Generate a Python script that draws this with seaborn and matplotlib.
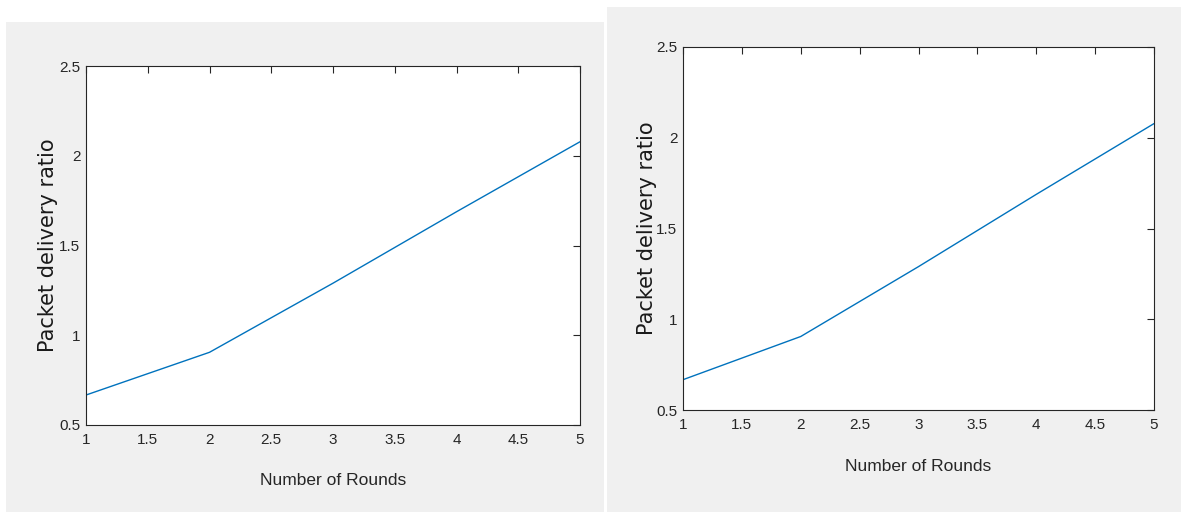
import numpy as np
import pandas as pd
import matplotlib
matplotlib.use("Agg")
import matplotlib.pyplot as plt
from matplotlib.patches import Rectangle
import seaborn as sns

# Dados (mesma curva nos dois painéis)
rounds = [1, 2, 3, 4, 5]
pdr = [0.667, 0.905, 1.29, 1.688, 2.078]
x_ticks = [1, 1.5, 2, 2.5, 3, 3.5, 4, 4.5, 5]
x_tick_labels = ["1", "1.5", "2", "2.5", "3", "3.5", "4", "4.5", "5"]
y_ticks = [0.5, 1, 1.5, 2, 2.5]
y_tick_labels = ["0.5", "1", "1.5", "2", "2.5"]
xlabel_txt = "Number of Rounds"
ylabel_txt = "Packet delivery ratio"

sns.set_style("white")
plt.rcParams['font.family'] = ['Liberation Sans', 'DejaVu Sans']

df = pd.DataFrame({"rounds": rounds, "pdr": pdr})

W, H = 1181, 512
fig = plt.figure(figsize=(W / 100, H / 100), dpi=100)
fig.patch.set_facecolor("white")

# fundos cinza estilo MATLAB, num eixo de fundo
bg = fig.add_axes([0, 0, 1, 1], zorder=-10)
bg.set_xlim(0, W)
bg.set_ylim(H, 0)
bg.axis("off")
bg.add_patch(Rectangle((6, 22), 604 - 6, 512 - 22, facecolor="#f0f0f0", edgecolor="none"))
bg.add_patch(Rectangle((607, 7), 1181 - 607, 512 - 7, facecolor="#f0f0f0", edgecolor="none"))

# posições dos eixos em pixels (esq, dir, topo, base)
boxes = [(86, 580, 66, 425), (683, 1154, 47, 410)]
cor_txt = "#262626"

for (x0, x1, y0, y1) in boxes:
    ax = fig.add_axes([x0 / W, (H - y1) / H, (x1 - x0) / W, (y1 - y0) / H])
    ax.set_facecolor("white")
    sns.lineplot(data=df, x="rounds", y="pdr", ax=ax, color="#0072BD", lw=1.0)
    ax.set_xlim(1, 5)
    ax.set_ylim(0.5, 2.5)
    ax.set_xticks(x_ticks)
    ax.set_xticklabels(x_tick_labels)
    ax.set_yticks(y_ticks)
    ax.set_yticklabels(y_tick_labels)
    ax.tick_params(direction="in", length=5, width=0.8, color=cor_txt,
                   labelcolor=cor_txt, labelsize=11, top=True, right=True)
    ax.tick_params(axis="x", pad=6)
    ax.tick_params(axis="y", pad=4)
    for s in ax.spines.values():
        s.set_visible(True)
        s.set_color(cor_txt)
        s.set_linewidth(0.8)
    ax.set_xlabel(xlabel_txt, fontsize=12.5, color=cor_txt)
    ax.set_ylabel(ylabel_txt, fontsize=15, color="#1a1a1a",
                  family=['DejaVu Sans'])
    ax.xaxis.set_label_coords(0.5, -0.135)
    ax.yaxis.set_label_coords(-0.056, 0.5)

fig.savefig("out.png", dpi=100)
